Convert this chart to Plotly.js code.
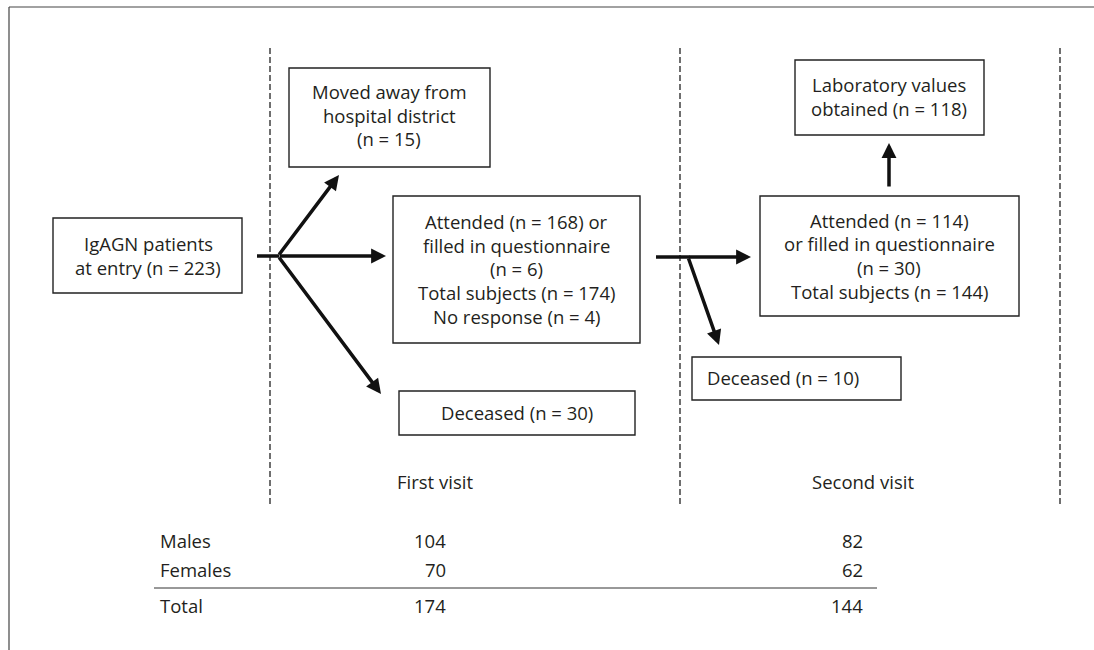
<!DOCTYPE html>
<html>
<head>
<meta charset="utf-8">
<script src="https://cdn.plot.ly/plotly-3.0.1.min.js"></script>
<style>html,body{margin:0;padding:0;background:#fff;}#chart{width:1094px;height:650px;}</style>
</head>
<body>
<div id="chart"></div>
<script>
// ---- data ----
const rowLabels = ["Males", "Females", "Total"];
const firstVisit = [104, 70, 174];
const secondVisit = [82, 62, 144];
const columnLabels = ["First visit", "Second visit"];
const entryText = ["IgAGN patients", "at entry (n = 223)"];
const movedText = ["Moved away from", "hospital district", "(n = 15)"];
const attended1Text = ["Attended (n = 168) or", "filled in questionnaire", "(n = 6)", "Total subjects (n = 174)", "No response (n = 4)"];
const deceased1Text = ["Deceased (n = 30)"];
const labText = ["Laboratory values", "obtained (n = 118)"];
const attended2Text = ["Attended (n = 114)", "or filled in questionnaire", "(n = 30)", "Total subjects (n = 144)"];
const deceased2Text = ["Deceased (n = 10)"];

// ---- layout / geometry (pixel-like coordinates) ----
const FONT = {family: "Open Sans, Noto Sans, sans-serif", size: 18.5, color: "#231f20"};
const LINE = "#111";
const boxes = [
  {lines: entryText,     x0: 53,  x1: 242, y0: 218, y1: 293, cx: 148, ty: 243.5, dy: 23.7},
  {lines: movedText,     x0: 289, x1: 490, y0: 68,  y1: 167, cx: 389, ty: 91.5,  dy: 23.7},
  {lines: attended1Text, x0: 393, x1: 640, y0: 196, y1: 343, cx: 516, ty: 221.5, dy: 23.7},
  {lines: deceased1Text, x0: 399, x1: 635, y0: 391, y1: 435, cx: 517, ty: 412.5, dy: 23.7},
  {lines: labText,       x0: 795, x1: 984, y0: 60,  y1: 135, cx: 889, ty: 84.5,  dy: 23.7},
  {lines: attended2Text, x0: 760, x1: 1019,y0: 196, y1: 316, cx: 889, ty: 220,   dy: 23.7},
  {lines: deceased2Text, x0: 692, x1: 901, y0: 357, y1: 400, cx: 783, ty: 377.5, dy: 23.7}
];
const dashX = [270, 680, 1060];
const dashY = [48, 505];
const plainLines = [
  [257, 256, 279, 256],
  [656, 257, 690, 257]
];
const arrows = [
  [278, 256, 339, 175],
  [278, 256, 386, 256],
  [278, 256, 381, 394],
  [688, 257, 751, 257],
  [688, 257, 719, 345],
  [889, 188, 889, 143]
];
const colLabelPos = [[435, 481.5], [863, 481.5]];
const tableY = [540.5, 569.5, 605.5];
const tableLabelX = 158, col1X = 448, col2X = 865;

const shapes = [];
const annotations = [];

shapes.push({type: "line", xref: "x", yref: "y", x0: 9, y0: 7, x1: 1094, y1: 7, line: {color: "#444", width: 1.2}});
shapes.push({type: "line", xref: "x", yref: "y", x0: 9, y0: 7, x1: 9, y1: 650, line: {color: "#444", width: 1.2}});

dashX.forEach(x => shapes.push({type: "line", xref: "x", yref: "y", x0: x, x1: x, y0: dashY[0], y1: dashY[1], line: {color: "#222", width: 1.3, dash: "6px,3px"}}));

boxes.forEach(b => {
  shapes.push({type: "rect", xref: "x", yref: "y", x0: b.x0, x1: b.x1, y0: b.y0, y1: b.y1, line: {color: "#222", width: 1.4}, fillcolor: "rgba(0,0,0,0)"});
  b.lines.forEach((t, i) => annotations.push({x: b.cx, y: b.ty + i * b.dy, xref: "x", yref: "y", text: t, showarrow: false, font: FONT, xanchor: "center", yanchor: "middle"}));
});

plainLines.forEach(s => shapes.push({type: "line", xref: "x", yref: "y", x0: s[0], y0: s[1], x1: s[2], y1: s[3], line: {color: LINE, width: 3.5}}));
arrows.forEach(a => annotations.push({
  x: a[2], y: a[3], ax: a[0], ay: a[1], xref: "x", yref: "y", axref: "x", ayref: "y",
  text: "", showarrow: true, arrowhead: 2, arrowsize: 0.85, arrowwidth: 3.5, arrowcolor: LINE, standoff: 0, startstandoff: 0
}));

columnLabels.forEach((t, i) => annotations.push({x: colLabelPos[i][0], y: colLabelPos[i][1], xref: "x", yref: "y", text: t, showarrow: false, font: FONT, xanchor: "center", yanchor: "middle"}));

rowLabels.forEach((lab, i) => {
  annotations.push({x: tableLabelX, y: tableY[i], xref: "x", yref: "y", text: lab, showarrow: false, font: FONT, xanchor: "left", yanchor: "middle"});
  annotations.push({x: col1X, y: tableY[i], xref: "x", yref: "y", text: String(firstVisit[i]), showarrow: false, font: FONT, xanchor: "right", yanchor: "middle"});
  annotations.push({x: col2X, y: tableY[i], xref: "x", yref: "y", text: String(secondVisit[i]), showarrow: false, font: FONT, xanchor: "right", yanchor: "middle"});
});
shapes.push({type: "line", xref: "x", yref: "y", x0: 154, x1: 877, y0: 588, y1: 588, line: {color: "#333", width: 1}});

const layout = {
  width: 1094, height: 650,
  margin: {l: 0, r: 0, t: 0, b: 0, pad: 0},
  paper_bgcolor: "#fff", plot_bgcolor: "#fff",
  xaxis: {range: [0, 1094], visible: false, fixedrange: true},
  yaxis: {range: [650, 0], visible: false, fixedrange: true},
  showlegend: false,
  shapes: shapes,
  annotations: annotations
};
Plotly.newPlot("chart", [{x: [], y: [], type: "scatter", mode: "markers", hoverinfo: "skip"}], layout, {staticPlot: true, displayModeBar: false});
</script>
</body>
</html>
